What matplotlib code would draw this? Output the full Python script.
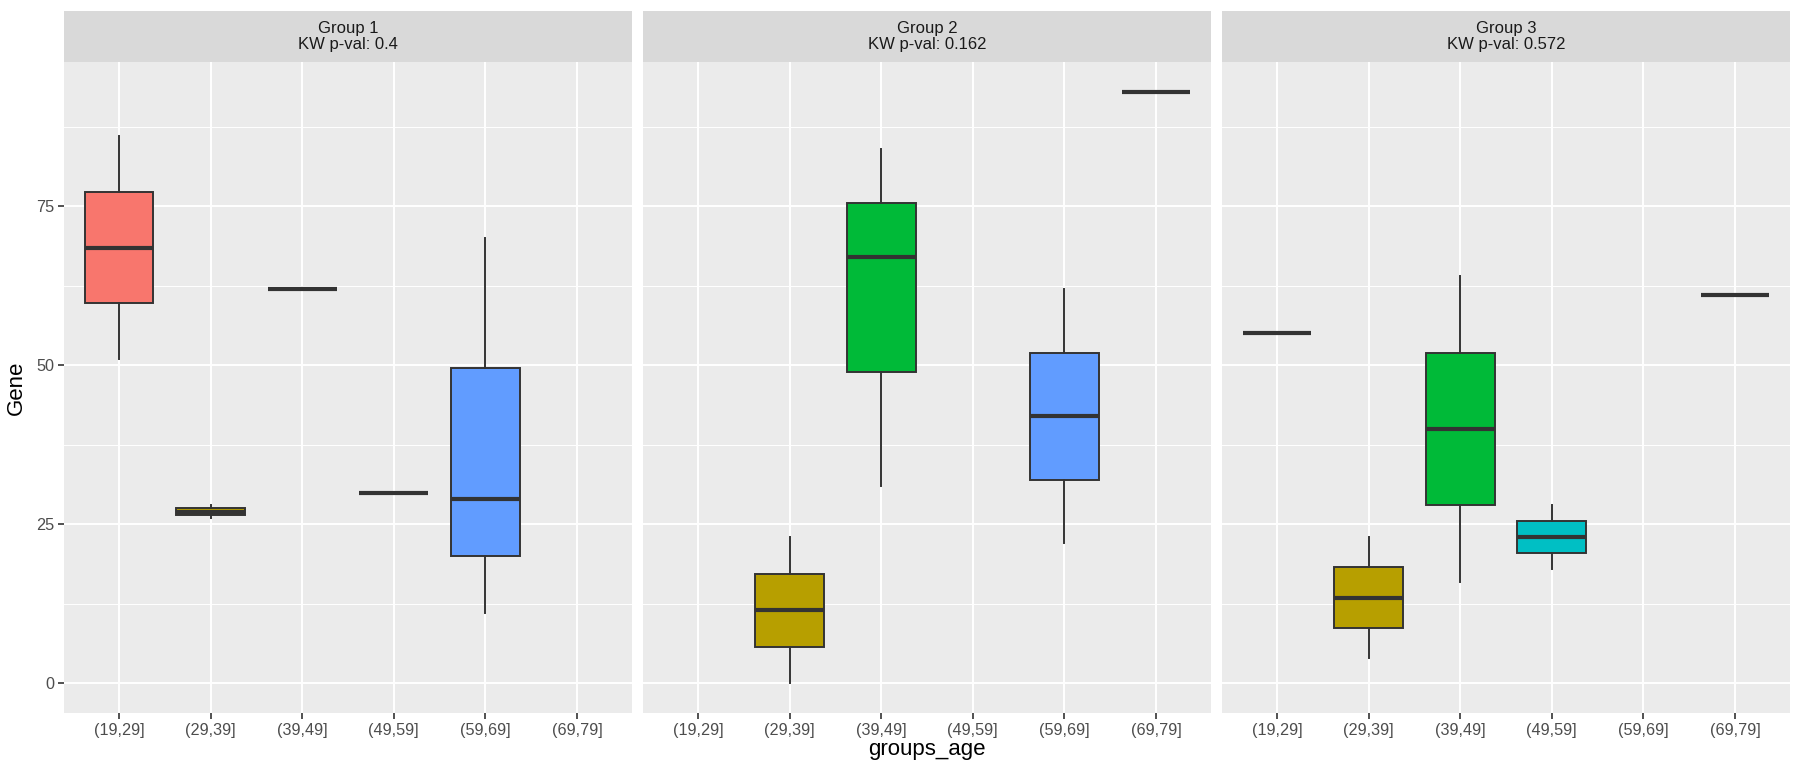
import matplotlib
matplotlib.use("Agg")
import matplotlib.pyplot as plt
from matplotlib.patches import Rectangle

plt.rcParams['font.family'] = ['Liberation Sans', 'DejaVu Sans']

age_bins = ["(19,29]", "(29,39]", "(39,49]", "(49,59]", "(59,69]", "(69,79]"]
bin_colors = ["#F8766D", "#B79F00", "#00BA38", "#00BFC4", "#619CFF", "#F564E3"]
groups = ["Group 1", "Group 2", "Group 3"]
kw_pvals = ["0.4", "0.162", "0.572"]

# bin -> (whisker low, q1, median, q3, whisker high)
group1_stats = {
    "(19,29]": (51, 59.75, 68.5, 77.25, 86),
    "(29,39]": (26, 26.4, 27, 27.5, 28),
    "(39,49]": (62, 62, 62, 62, 62),
    "(49,59]": (30, 30, 30, 30, 30),
    "(59,69]": (11, 20, 29, 49.5, 70),
}
group2_stats = {
    "(29,39]": (0, 5.7, 11.5, 17.2, 23),
    "(39,49]": (31, 49, 67, 75.5, 84),
    "(59,69]": (22, 32, 42, 52, 62),
    "(69,79]": (93, 93, 93, 93, 93),
}
group3_stats = {
    "(19,29]": (55, 55, 55, 55, 55),
    "(29,39]": (4, 8.7, 13.5, 18.3, 23),
    "(39,49]": (16, 28, 40, 52, 64),
    "(49,59]": (18, 20.5, 23, 25.5, 28),
    "(69,79]": (61, 61, 61, 61, 61),
}
all_stats = [group1_stats, group2_stats, group3_stats]

W, H = 1796, 762
fig = plt.figure(figsize=(W / 100, H / 100), dpi=100)

panel_left = [64, 643, 1222]
panel_w = 568
plot_top, plot_bottom = 62, 713
strip_top = 11

ylim = (-4.65, 97.65)
edge = "#333333"

for i, (name, pval, stats) in enumerate(zip(groups, kw_pvals, all_stats)):
    ax = fig.add_axes([panel_left[i] / W, 1 - plot_bottom / H,
                       panel_w / W, (plot_bottom - plot_top) / H])
    ax.set_facecolor("#EBEBEB")
    for s in ax.spines.values():
        s.set_visible(False)
    ax.set_xlim(0.4, len(age_bins) + 0.6)
    ax.set_ylim(*ylim)

    # grid
    for y in [12.5, 37.5, 62.5, 87.5]:
        ax.axhline(y, color="white", lw=0.7, zorder=0)
    for y in [0, 25, 50, 75]:
        ax.axhline(y, color="white", lw=1.4, zorder=0)
    for x in range(1, len(age_bins) + 1):
        ax.axvline(x, color="white", lw=1.4, zorder=0)

    bxp_stats, pos, cols = [], [], []
    for j, b in enumerate(age_bins):
        if b in stats:
            lo, q1, med, q3, hi = stats[b]
            bxp_stats.append(dict(whislo=lo, q1=q1, med=med, q3=q3, whishi=hi, fliers=[]))
            pos.append(j + 1)
            cols.append(bin_colors[j])
    bp = ax.bxp(bxp_stats, positions=pos, widths=0.75, patch_artist=True,
                showfliers=False, showcaps=False,
                boxprops=dict(edgecolor=edge, linewidth=1.4),
                whiskerprops=dict(color=edge, linewidth=1.4),
                medianprops=dict(color=edge, linewidth=3.0, solid_capstyle="butt"),
                manage_ticks=False, zorder=2)
    for patch, c in zip(bp["boxes"], cols):
        patch.set_facecolor(c)

    ax.set_xticks(range(1, len(age_bins) + 1))
    ax.set_xticklabels(age_bins)
    ax.tick_params(axis="x", colors=edge, labelcolor="#4D4D4D", labelsize=11.7,
                   length=4, width=1.2, pad=3)
    if i == 0:
        ax.set_yticks([0, 25, 50, 75])
        ax.tick_params(axis="y", colors=edge, labelcolor="#4D4D4D", labelsize=11.7,
                       length=4, width=1.2, pad=3)
    else:
        ax.set_yticks([])

    # strip
    sax = fig.add_axes([panel_left[i] / W, 1 - plot_top / H,
                        panel_w / W, (plot_top - strip_top) / H])
    sax.set_axis_off()
    sax.add_patch(Rectangle((0, 0), 1, 1, transform=sax.transAxes,
                            facecolor="#D9D9D9", edgecolor="none"))
    sax.text(0.5, 0.5, f"{name}\nKW p-val: {pval}", ha="center", va="center",
             fontsize=12, color="#1A1A1A", linespacing=1.0,
             transform=sax.transAxes)

fig.text((panel_left[0] + panel_left[2] + panel_w) / 2 / W, 1.5 / H,
         "groups_age", ha="center", va="bottom", fontsize=16, color="black")
fig.text(16 / W, 1 - (plot_top + plot_bottom) / 2 / H, "Gene", rotation=90,
         ha="center", va="center", fontsize=16, color="black")

fig.savefig("out.png", dpi=100, facecolor="white")
